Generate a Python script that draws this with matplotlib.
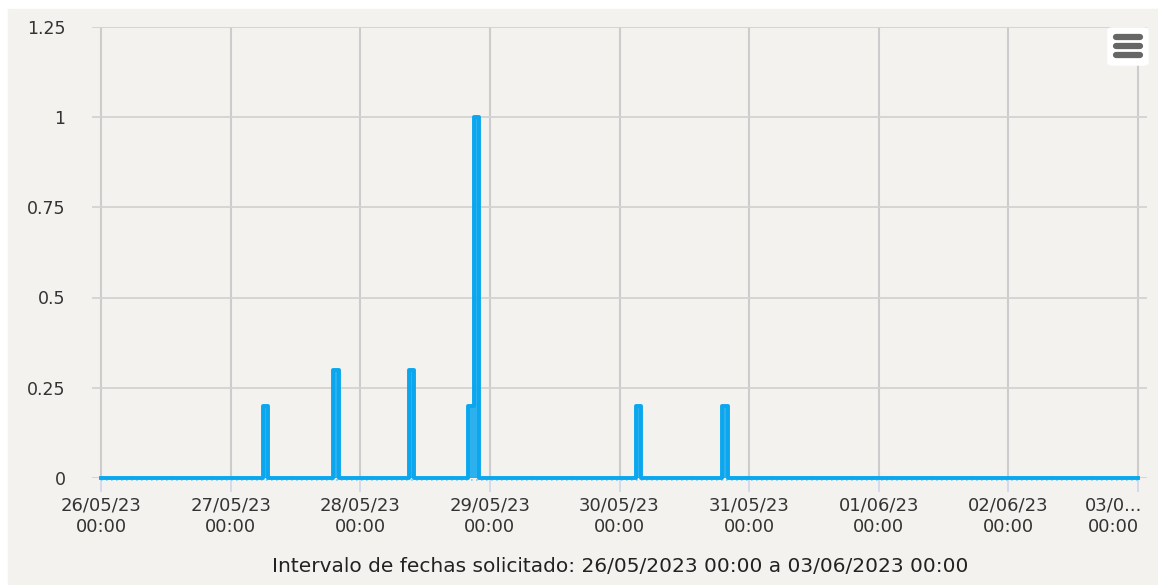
import matplotlib
matplotlib.use("Agg")
import matplotlib.pyplot as plt
import matplotlib.dates as mdates
import matplotlib.transforms as mtransforms
from matplotlib.patches import FancyBboxPatch, Rectangle
from matplotlib.lines import Line2D
import numpy as np
import pandas as pd

# lluvia horaria (mm), solo las horas con valor distinto de cero
inicio = "2023-05-26 00:00"
fin = "2023-06-03 00:00"
horas_lluvia = ["2023-05-27 06:00", "2023-05-27 19:00", "2023-05-28 09:00",
                "2023-05-28 20:00", "2023-05-28 21:00", "2023-05-30 03:00",
                "2023-05-30 19:00"]
valores_lluvia = [0.2, 0.3, 0.3, 0.2, 1.0, 0.2, 0.2]

etiquetas_x = ["26/05/23\n00:00", "27/05/23\n00:00", "28/05/23\n00:00",
               "29/05/23\n00:00", "30/05/23\n00:00", "31/05/23\n00:00",
               "01/06/23\n00:00", "02/06/23\n00:00", "03/0...\n00:00"]
ticks_y = [0, 0.25, 0.5, 0.75, 1, 1.25]
etiquetas_y = ["0", "0.25", "0.5", "0.75", "1", "1.25"]

azul = "#0aa6ee"
fondo = "#f3f2ef"
texto = "#333333"

tiempos = pd.date_range(inicio, fin, freq="h")
serie = pd.Series(0.0, index=tiempos)
for h, v in zip(horas_lluvia, valores_lluvia):
    serie[pd.Timestamp(h)] = v

fig = plt.figure(figsize=(11.58, 5.85), dpi=100, facecolor="white")
fig.patches.append(Rectangle((8 / 1158, 0), 1 - 8 / 1158, 1 - 9 / 585,
                             transform=fig.transFigure, color=fondo, zorder=-10))

ax = fig.add_axes([92 / 1158, 1 - 478 / 585, (1147 - 92) / 1158, (478 - 26.75) / 585])
ax.patch.set_alpha(0)

x = mdates.date2num(serie.index.to_pydatetime())
y = serie.values
ax.fill_between(x, y, step="post", color=azul, alpha=0.85, lw=0, zorder=3)
ax.step(x, y, where="post", color=azul, lw=2.8, zorder=4, clip_on=False)
# patron punteado bajo la linea base
abajo = mtransforms.ScaledTranslation(0, -2 / 100, fig.dpi_scale_trans)
ax.plot(x, np.zeros_like(x), color="#7fcdf3", lw=1.2, ls=(0, (1, 2)), zorder=2,
        transform=ax.transData + abajo, clip_on=False)

pad = 1.67 / 24
ticks_x = mdates.date2num(pd.date_range(inicio, fin, freq="D").to_pydatetime())
ax.set_xlim(ticks_x[0] - pad, ticks_x[-1] + pad)
ax.set_ylim(0, 1.25)

ax.set_xticks(ticks_x)
ax.set_xticklabels(etiquetas_x[:-1] + [""], fontsize=13, color=texto, linespacing=1.25)
ax.set_yticks(ticks_y)
ax.set_yticklabels(etiquetas_y, fontsize=12.5, color=texto)
ax.tick_params(axis="x", length=10, width=1.2, color="#ccd6eb", pad=3)
ax.tick_params(axis="y", length=0, pad=19)

# ultima etiqueta recortada y desplazada a la izquierda
desp = mtransforms.ScaledTranslation(4 / 100, -18 / 100, fig.dpi_scale_trans)
ax.text(ticks_x[-1], 0, etiquetas_x[-1], ha="right", va="top", multialignment="center",
        fontsize=13, color=texto, linespacing=1.25,
        transform=ax.get_xaxis_transform() + desp)

ax.grid(axis="y", color="#d2d2d2", lw=1.3, zorder=1)
for t in ticks_x:
    ax.axvline(t, color="#cccccc", lw=1.5, zorder=1)
for s in ax.spines.values():
    s.set_visible(False)

# boton de menu
fig.patches.append(FancyBboxPatch((1108 / 1158, 1 - 65 / 585), 40 / 1158, 37 / 585,
                                  boxstyle="round,pad=0,rounding_size=0.004",
                                  transform=fig.transFigure, color="white", zorder=5))
for yy in [37, 46, 55]:
    fig.lines.append(Line2D([1116 / 1158, 1140 / 1158], [1 - yy / 585, 1 - yy / 585],
                            transform=fig.transFigure, color="#666666", lw=4.5,
                            solid_capstyle="round", zorder=6))

fig.text(620 / 1158, 1 - 566 / 585,
         "Intervalo de fechas solicitado: 26/05/2023 00:00 a 03/06/2023 00:00",
         ha="center", va="center", fontsize=14.5, color="#222222")

fig.savefig("out.png", dpi=100, facecolor=fig.get_facecolor())
